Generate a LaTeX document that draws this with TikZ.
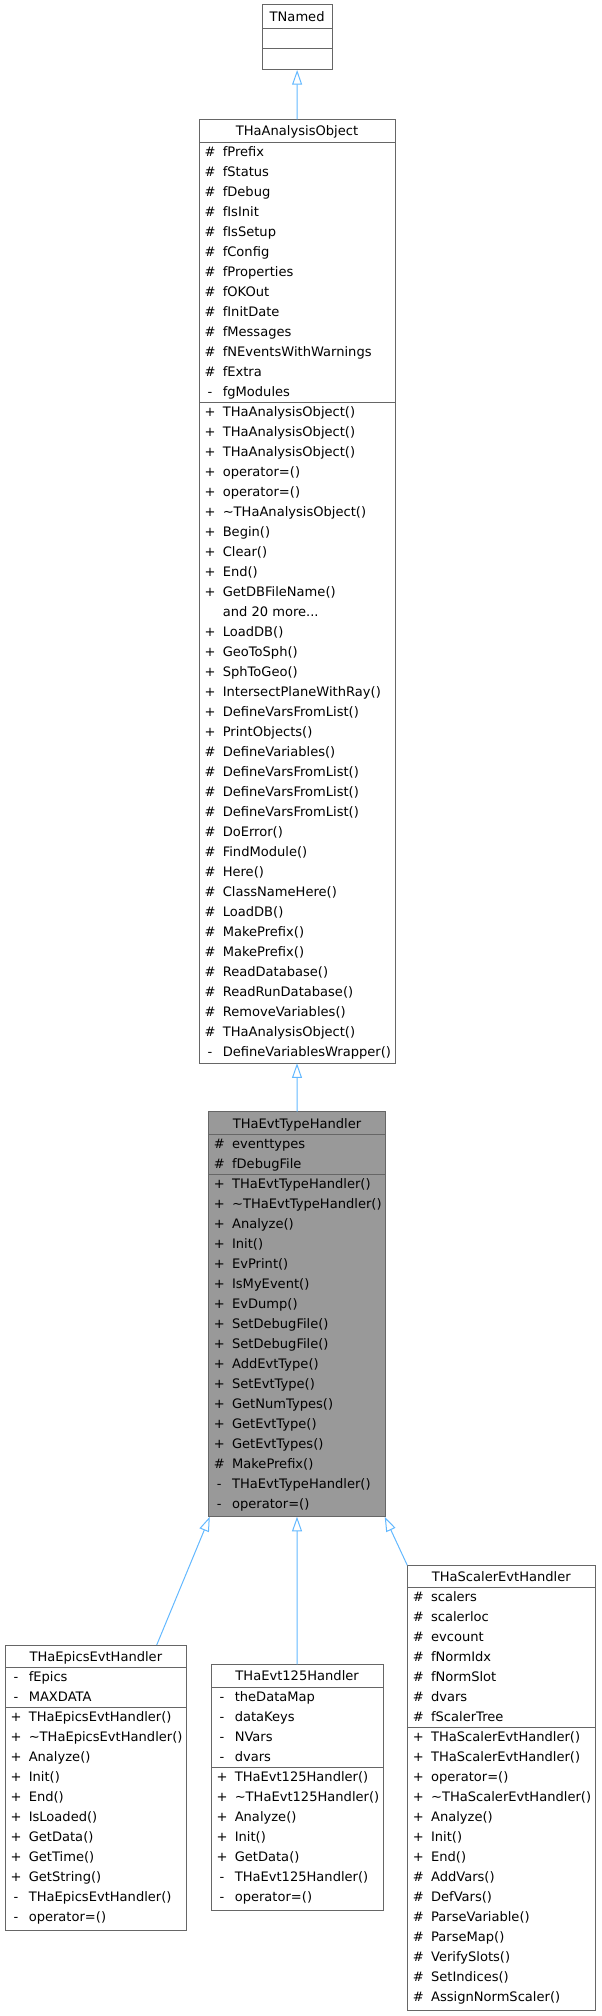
\documentclass[tikz,border=0pt]{standalone}
\usepackage{fontspec}
\setmainfont{DejaVu Sans}
\usetikzlibrary{arrows.meta,fit,calc}
\definecolor{boxgray}{HTML}{666666}
\definecolor{curfill}{HTML}{999999}
\definecolor{edgeblue}{HTML}{63B8FF}
\newcommand{\umlfont}{\fontsize{9.8pt}{12pt}\selectfont}
\newcommand{\threedots}{...}
\tikzset{
  classbox/.style={draw=boxgray, line width=0.75pt, inner sep=0pt, outer sep=0pt, fill=white},
  divider/.style={draw=boxgray, line width=0.75pt},
  sym/.style={anchor=base, inner sep=0pt, font=\umlfont},
  mem/.style={anchor=base west, inner sep=0pt, font=\umlfont},
  ttl/.style={anchor=base, inner sep=0pt, font=\umlfont},
  inh/.style={draw=edgeblue, line width=0.75pt, -{Triangle[open, length=11pt, width=7.5pt]}},
}
% #1 prefix, #2 left x, #3 section top y, #4 list sym/text
\newcommand{\umlrows}[4]{%
  \foreach [count=\i] \vs/\vt in {#4}{%
    \node[sym] (#1s\i) at ({#2+11},{#3+14+20*(\i-1)}) {\vs};
    \node[mem] (#1m\i) at ({#2+23.5},{#3+14+20*(\i-1)}) {\vt};
  }%
}
% #1 name, #2 L, #3 T, #4 R, #5 D1, #6 D2, #7 B, #8 extra style, #9 title
\newcommand{\umlbox}[9]{%
  \coordinate (#1nw) at (#2,#3);
  \coordinate (#1se) at (#4,#7);
  \node[classbox,#8,fit=(#1nw)(#1se)] (#1) {};
  \draw[divider] (#2,#5) -- (#4,#5);
  \draw[divider] (#2,#6) -- (#4,#6);
  \node[ttl] (#1title) at ({(#2+#4)/2},{#3+16.5}) {#9};
}
\begin{document}
\begin{tikzpicture}[x=0.75pt,y=-0.75pt]
\useasboundingbox (0,0) rectangle (601,2016);

% TNamed
\umlbox{tn}{262.3}{5}{332}{28.7}{48.7}{70}{}{TNamed}

% THaAnalysisObject
\umlbox{ao}{199}{119.3}{395}{142}{402.7}{1063.3}{}{THaAnalysisObject}
\umlrows{aoa}{199}{142}{\#/fPrefix, \#/fStatus, \#/fDebug, \#/fIsInit, \#/fIsSetup, \#/fConfig, \#/fProperties, \#/fOKOut, \#/fInitDate, \#/fMessages, \#/fNEventsWithWarnings, \#/fExtra, -/fgModules}
\umlrows{aom}{199}{402.7}{+/THaAnalysisObject(), +/THaAnalysisObject(), +/THaAnalysisObject(), +/operator=(), +/operator=(), +/\textasciitilde THaAnalysisObject(), +/Begin(), +/Clear(), +/End(), +/GetDBFileName(), {}/and 20 more\threedots, +/LoadDB(), +/GeoToSph(), +/SphToGeo(), +/IntersectPlaneWithRay(), +/DefineVarsFromList(), +/PrintObjects(), \#/DefineVariables(), \#/DefineVarsFromList(), \#/DefineVarsFromList(), \#/DefineVarsFromList(), \#/DoError(), \#/FindModule(), \#/Here(), \#/ClassNameHere(), \#/LoadDB(), \#/MakePrefix(), \#/MakePrefix(), \#/ReadDatabase(), \#/ReadRunDatabase(), \#/RemoveVariables(), \#/THaAnalysisObject(), -/DefineVariablesWrapper()}

% THaEvtTypeHandler
\umlbox{eth}{208.3}{1111.7}{385.7}{1134.3}{1174.3}{1516.7}{fill=curfill}{THaEvtTypeHandler}
\umlrows{etha}{208.3}{1134.3}{\#/eventtypes, \#/fDebugFile}
\umlrows{ethm}{208.3}{1174.3}{+/THaEvtTypeHandler(), +/\textasciitilde THaEvtTypeHandler(), +/Analyze(), +/Init(), +/EvPrint(), +/IsMyEvent(), +/EvDump(), +/SetDebugFile(), +/SetDebugFile(), +/AddEvtType(), +/SetEvtType(), +/GetNumTypes(), +/GetEvtType(), +/GetEvtTypes(), \#/MakePrefix(), -/THaEvtTypeHandler(), -/operator=()}

% THaEpicsEvtHandler
\umlbox{epics}{5}{1645}{186.7}{1667.7}{1707.7}{1930.7}{}{THaEpicsEvtHandler}
\umlrows{epa}{5}{1667.7}{-/fEpics, -/MAXDATA}
\umlrows{epm}{5}{1707.7}{+/THaEpicsEvtHandler(), +/\textasciitilde THaEpicsEvtHandler(), +/Analyze(), +/Init(), +/End(), +/IsLoaded(), +/GetData(), +/GetTime(), +/GetString(), -/THaEpicsEvtHandler(), -/operator=()}

% THaEvt125Handler
\umlbox{e125}{211}{1664.3}{383.3}{1687.7}{1767.7}{1910.7}{}{THaEvt125Handler}
\umlrows{e1a}{211}{1687.7}{-/theDataMap, -/dataKeys, -/NVars, -/dvars}
\umlrows{e1m}{211}{1767.7}{+/THaEvt125Handler(), +/\textasciitilde THaEvt125Handler(), +/Analyze(), +/Init(), +/GetData(), -/THaEvt125Handler(), -/operator=()}

% THaScalerEvtHandler
\umlbox{sc}{407.3}{1565.3}{595.3}{1587.7}{1727.7}{2010.7}{}{THaScalerEvtHandler}
\umlrows{sca}{407.3}{1587.7}{\#/scalers, \#/scalerloc, \#/evcount, \#/fNormIdx, \#/fNormSlot, \#/dvars, \#/fScalerTree}
\umlrows{scm}{407.3}{1727.7}{+/THaScalerEvtHandler(), +/THaScalerEvtHandler(), +/operator=(), +/\textasciitilde THaScalerEvtHandler(), +/Analyze(), +/Init(), +/End(), \#/AddVars(), \#/DefVars(), \#/ParseVariable(), \#/ParseMap(), \#/VerifySlots(), \#/SetIndices(), \#/AssignNormScaler()}

% inheritance edges
\draw[inh] (ao.north) -- (tn.south);
\draw[inh] (eth.north) -- (ao.south);
\draw[inh] (e125.north) -- (eth.south);
\draw[inh] ($(epics.north west)+(151.7,0)$) -- ($(eth.south west)+(1.5,0)$);
\draw[inh] (sc.north west) -- ($(eth.south east)+(-1,0)$);
\end{tikzpicture}
\end{document}
